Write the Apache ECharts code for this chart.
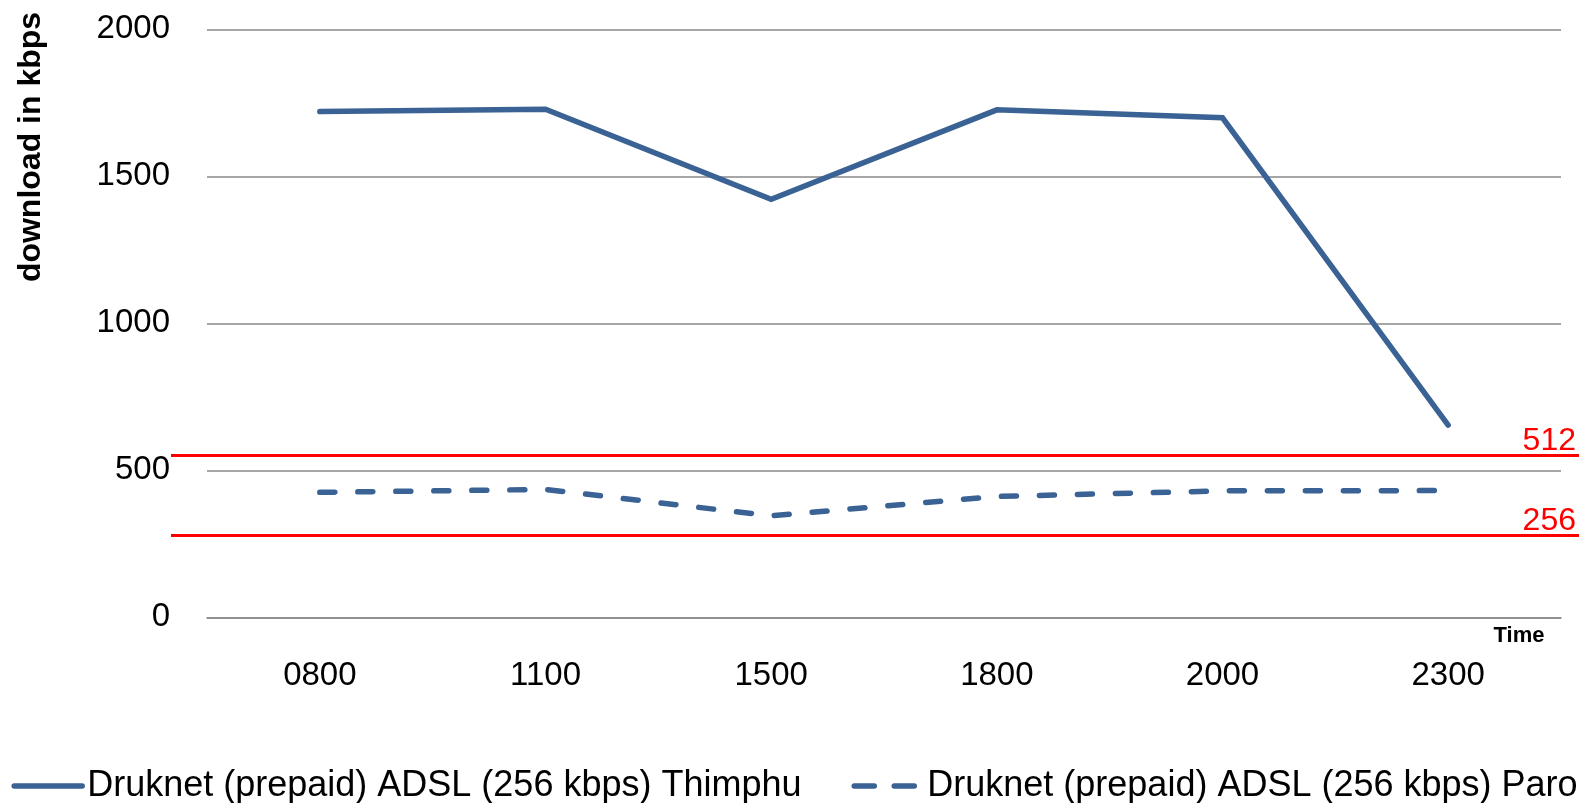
<!DOCTYPE html>
<html>
<head>
<meta charset="utf-8">
<script src="https://cdn.jsdelivr.net/npm/echarts@6/dist/echarts.min.js"></script>
<style>
html,body{margin:0;padding:0;background:#fff;}
#chart{width:1589px;height:803px;}
</style>
</head>
<body>
<div id="chart"></div>
<script>
var categories = ['0800', '1100', '1500', '1800', '2000', '2300'];
var thimphu = [1720, 1728, 1422, 1726, 1699, 654];
var paro = [425, 435, 345, 411, 430, 431];
var seriesNames = ['Druknet (prepaid) ADSL (256 kbps) Thimphu', 'Druknet (prepaid) ADSL (256 kbps) Paro'];
var refLineValues = [551, 279];
var refLineLabels = ['512', '256'];
var yTicks = [0, 500, 1000, 1500, 2000];

var FONT = "'Liberation Sans', Arial, sans-serif";
var BLUE = '#3a6294';
var GRID_TOP = 29.3, GRID_BOTTOM = 185.7;

var chart = echarts.init(document.getElementById('chart'), null, {renderer: 'canvas'});
chart.setOption({
  animation: false,
  backgroundColor: '#ffffff',
  textStyle: {fontFamily: FONT},
  grid: [
    {left: 207, right: 28, top: GRID_TOP, bottom: GRID_BOTTOM},
    {left: 171, right: 10, top: GRID_TOP, bottom: GRID_BOTTOM}
  ],
  xAxis: [
    {
      type: 'category', gridIndex: 0, data: categories, boundaryGap: true,
      axisLine: {lineStyle: {color: '#898989', width: 1.5}},
      axisTick: {show: false},
      axisLabel: {fontSize: 33, color: '#000', margin: 42, fontFamily: FONT},
      name: 'Time', nameLocation: 'end', nameGap: -42,
      nameTextStyle: {fontSize: 22, fontWeight: 'bold', color: '#000', align: 'center', verticalAlign: 'top', padding: [8, 0, 0, 0], fontFamily: FONT}
    },
    {type: 'value', gridIndex: 1, min: 0, max: 1, show: false}
  ],
  yAxis: [
    {
      type: 'value', gridIndex: 0, min: yTicks[0], max: yTicks[yTicks.length - 1], interval: 500,
      axisLine: {show: false}, axisTick: {show: false},
      splitLine: {lineStyle: {color: '#898989', width: 1.5}},
      axisLabel: {fontSize: 33, color: '#000', margin: 37, fontFamily: FONT, formatter: function (v) { return String(v); }}
    },
    {type: 'value', gridIndex: 1, min: yTicks[0], max: yTicks[yTicks.length - 1], show: false}
  ],
  legend: {
    data: [
      {name: seriesNames[0]},
      {name: seriesNames[1], lineStyle: {type: [20, 20], width: 5.5, cap: 'round'}}
    ],
    left: 'center', top: 763,
    itemWidth: 68, itemHeight: 14, itemGap: 50,
    itemStyle: {opacity: 0},
    lineStyle: {width: 5.5, cap: 'round'},
    textStyle: {fontSize: 36, color: '#000', fontFamily: FONT}
  },
  graphic: [{
    type: 'text', x: 31, y: 147, rotation: Math.PI / 2,
    style: {text: 'download in kbps', font: 'bold 32px ' + FONT, fill: '#000', align: 'center', verticalAlign: 'middle'}
  }],
  series: [
    {
      name: seriesNames[0], type: 'line', data: thimphu, symbol: 'none', color: BLUE,
      lineStyle: {color: BLUE, width: 5.5, cap: 'round', join: 'miter'}
    },
    {
      name: seriesNames[1], type: 'line', data: paro, symbol: 'none', color: BLUE,
      lineStyle: {color: BLUE, width: 5.5, type: [15, 23], cap: 'round'}
    },
    {
      name: 'ref', type: 'line', xAxisIndex: 1, yAxisIndex: 1, data: [],
      markLine: {
        silent: true, symbol: ['none', 'none'], animation: false,
        lineStyle: {color: '#ff0000', width: 3, type: 'solid'},
        label: {show: true, position: 'insideEndTop', formatter: '{b}', color: '#ff0000', fontSize: 32, lineHeight: 22, fontFamily: FONT, distance: 3},
        emphasis: {disabled: true},
        data: refLineValues.map(function (v, i) { return {yAxis: v, name: refLineLabels[i]}; })
      }
    }
  ]
});
</script>
</body>
</html>
